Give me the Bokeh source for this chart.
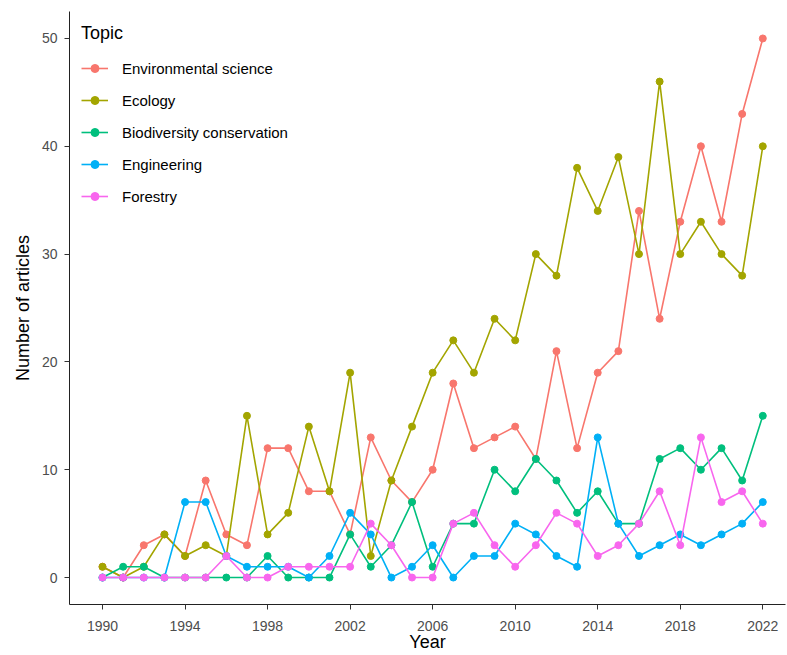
from bokeh.plotting import figure
from bokeh.models import Legend, LegendItem, FixedTicker, Range1d
from bokeh.embed import file_html
from bokeh.resources import INLINE

years = list(range(1990, 2023))
topics = ["Environmental science", "Ecology", "Biodiversity conservation", "Engineering", "Forestry"]
env_science = [1, 0, 3, 4, 2, 9, 4, 3, 12, 12, 8, 8, 4, 13, 9, 7, 10, 18, 12, 13, 14, 11, 21, 12, 19, 21, 34, 24, 33, 40, 33, 43, 50]
ecology = [1, 0, 1, 4, 2, 3, 2, 15, 4, 6, 14, 8, 19, 2, 9, 14, 19, 22, 19, 24, 22, 30, 28, 38, 34, 39, 30, 46, 30, 33, 30, 28, 40]
biodiversity = [0, 1, 1, 0, 0, 0, 0, 0, 2, 0, 0, 0, 4, 1, 3, 7, 1, 5, 5, 10, 8, 11, 9, 6, 8, 5, 5, 11, 12, 10, 12, 9, 15]
engineering = [0, 0, 0, 0, 7, 7, 2, 1, 1, 1, 0, 2, 6, 4, 0, 1, 3, 0, 2, 2, 5, 4, 2, 1, 13, 5, 2, 3, 4, 3, 4, 5, 7]
forestry = [0, 0, 0, 0, 0, 0, 2, 0, 0, 1, 1, 1, 1, 5, 3, 0, 0, 5, 6, 3, 1, 3, 6, 5, 2, 3, 5, 8, 3, 13, 7, 8, 5]
x_ticks = [1990, 1994, 1998, 2002, 2006, 2010, 2014, 2018, 2022]
y_ticks = [0, 10, 20, 30, 40, 50]

series = [env_science, ecology, biodiversity, engineering, forestry]
colors = ["#F8766D", "#A3A500", "#00BF7D", "#00B0F6", "#F866EE"]
FONT = "Liberation Sans"

p = figure(width=787, height=655, output_backend="svg", toolbar_location=None,
           x_range=Range1d(1988.4, 2023.1), y_range=Range1d(-2.5, 52.5),
           min_border_left=69, min_border_right=2, min_border_top=11, min_border_bottom=51)
p.outline_line_color = None
p.xgrid.visible = False
p.ygrid.visible = False
p.background_fill_color = "white"
p.border_fill_color = "white"

items = []
for name, vals, c in zip(topics, series, colors):
    l = p.line(years, vals, line_color=c, line_width=1.6)
    s = p.scatter(years, vals, size=7, fill_color=c, line_color=c)
    items.append(LegendItem(label=name, renderers=[l, s]))

for ax in (p.xaxis[0], p.yaxis[0]):
    ax.axis_line_color = "#222222"
    ax.axis_line_width = 1
    ax.major_tick_line_color = "#333333"
    ax.major_tick_out = 5
    ax.major_tick_in = 0
    ax.minor_tick_out = 0
    ax.minor_tick_in = 0
    ax.major_label_text_font = FONT
    ax.major_label_text_font_size = "14px"
    ax.major_label_text_color = "#4D4D4D"
    ax.axis_label_text_font = FONT
    ax.axis_label_text_font_size = "18px"
    ax.axis_label_text_font_style = "normal"
    ax.axis_label_text_color = "black"

p.xaxis[0].ticker = FixedTicker(ticks=x_ticks)
p.yaxis[0].ticker = FixedTicker(ticks=y_ticks)
p.xaxis[0].axis_label = "Year"
p.yaxis[0].axis_label = "Number of articles"
p.xaxis[0].major_label_standoff = 11
p.xaxis[0].axis_label_standoff = -2
p.yaxis[0].major_label_standoff = 7
p.yaxis[0].axis_label_standoff = 6

legend = Legend(items=items, location="top_left", title="Topic")
legend.title_text_font = FONT
legend.title_text_font_size = "18px"
legend.title_text_font_style = "normal"
legend.title_text_color = "black"
legend.title_standoff = 14
legend.label_text_font = FONT
legend.label_text_font_size = "15px"
legend.label_text_color = "black"
legend.glyph_width = 27
legend.glyph_height = 20
legend.label_height = 20
legend.label_standoff = 14
legend.spacing = 12
legend.margin = 5
legend.padding = 7
legend.border_line_alpha = 0
legend.background_fill_alpha = 0
p.add_layout(legend)

open("out.html", "w").write(file_html(p, INLINE))
